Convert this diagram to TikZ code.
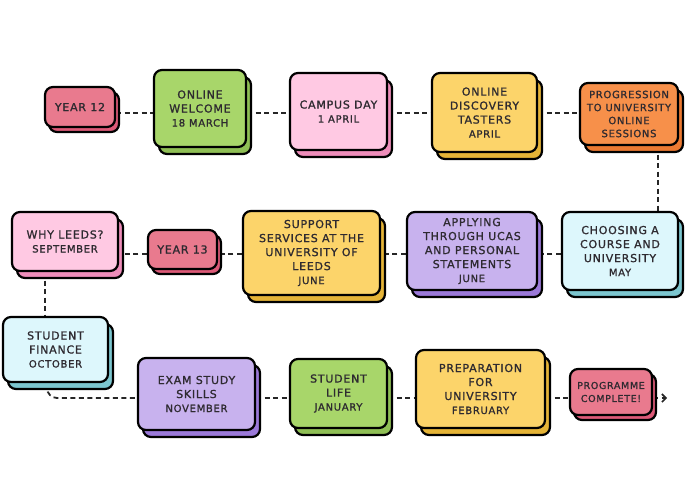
\documentclass[tikz,border=0pt]{standalone}
\usepackage{fontspec}
\setmainfont{DejaVu Sans}[LetterSpace=7,FakeBold=1.2]
\usetikzlibrary{shadows,arrows.meta,backgrounds}
\definecolor{txt}{HTML}{2E2A30}
\definecolor{redF}{HTML}{E97A8E}
\definecolor{redS}{HTML}{DD5A78}
\definecolor{grnF}{HTML}{A8D66A}
\definecolor{grnS}{HTML}{8FBF55}
\definecolor{pnkF}{HTML}{FFC9E3}
\definecolor{pnkS}{HTML}{EE8DBA}
\definecolor{yelF}{HTML}{FCD46A}
\definecolor{yelS}{HTML}{E5B437}
\definecolor{orgF}{HTML}{F7904A}
\definecolor{orgS}{HTML}{EC7A32}
\definecolor{purF}{HTML}{C8B2EE}
\definecolor{purS}{HTML}{9B79D9}
\definecolor{cynF}{HTML}{DDF7FC}
\definecolor{cynS}{HTML}{7CC6CF}
\newcommand{\datel}[1]{{\fontsize{10}{14}\selectfont #1}}
\begin{document}
\begin{tikzpicture}[x=1pt,y=-1pt,
  box/.style={draw=black, line width=2.2pt, rounded corners=8pt, inner sep=0pt,
    align=center, text=txt, font=\fontsize{11}{14}\selectfont},
  sh/.style={copy shadow={shadow xshift=5pt, shadow yshift=-7pt, fill=#1, draw=black, line width=2.2pt}},
  shs/.style={copy shadow={shadow xshift=4pt, shadow yshift=-5pt, fill=#1, draw=black, line width=2.2pt}},
  sz/.style n args={2}{minimum width=#1pt, minimum height=#2pt},
  redbox/.style={box, fill=redF, shs=redS},
  grnbox/.style={box, fill=grnF, sh=grnS},
  pnkbox/.style={box, fill=pnkF, sh=pnkS},
  yelbox/.style={box, fill=yelF, sh=yelS},
  orgbox/.style={box, fill=orgF, sh=orgS},
  purbox/.style={box, fill=purF, sh=purS},
  cynbox/.style={box, fill=cynF, sh=cynS},
  conn/.style={draw=black!85, line width=1.8pt, dash pattern=on 5pt off 3.5pt}
]
\useasboundingbox (0,0) rectangle (700,495);
\coordinate (r1) at (0,113);
\coordinate (r2) at (0,254);
\coordinate (r3) at (0,398);
\coordinate (xa) at (658,0);
\coordinate (xb) at (45,0);
\coordinate (xc) at (47,0);
\coordinate (endpt) at (667,398);

% row 1
\node[redbox, sz={70}{40}] (y12) at (80,107) {YEAR 12};
\node[grnbox, sz={92}{77}] (wel) at (200,108.5) {ONLINE\\WELCOME\\\datel{18 MARCH}};
\node[pnkbox, sz={97}{77}] (cam) at (338.5,111.5) {CAMPUS DAY\\\datel{1 APRIL}};
\node[yelbox, sz={105}{79}] (dis) at (484.5,112.5) {ONLINE\\DISCOVERY\\TASTERS\\\datel{APRIL}};
\node[orgbox, sz={98}{62}, font=\fontsize{10}{13}\selectfont] (pro) at (629,114) {PROGRESSION\\TO UNIVERSITY\\ONLINE\\SESSIONS};

% row 2
\node[cynbox, sz={116}{78}] (cho) at (620,251) {CHOOSING A\\COURSE AND\\UNIVERSITY\\\datel{MAY}};
\node[purbox, sz={130}{78}] (app) at (472,251) {APPLYING\\THROUGH UCAS\\AND PERSONAL\\STATEMENTS\\\datel{JUNE}};
\node[yelbox, sz={137}{84}] (sup) at (311.5,253) {SUPPORT\\SERVICES AT THE\\UNIVERSITY OF\\LEEDS\\\datel{JUNE}};
\node[redbox, sz={69}{39}] (y13) at (182.5,249.5) {YEAR 13};
\node[pnkbox, sz={106}{59}] (why) at (65,241.5) {WHY LEEDS?\\\datel{SEPTEMBER}};

% row 3
\node[cynbox, sz={105}{65}] (fin) at (55.5,349.5) {STUDENT\\FINANCE\\\datel{OCTOBER}};
\node[purbox, sz={117}{72}] (exa) at (196.5,394) {EXAM STUDY\\SKILLS\\\datel{NOVEMBER}};
\node[grnbox, sz={97}{69}] (lif) at (338.5,393.5) {STUDENT\\LIFE\\\datel{JANUARY}};
\node[yelbox, sz={129}{78}] (pre) at (480.5,389) {PREPARATION\\FOR\\UNIVERSITY\\\datel{FEBRUARY}};
\node[redbox, sz={82}{46}, font=\fontsize{9.5}{13}\selectfont] (com) at (611,392) {PROGRAMME\\COMPLETE!};

\begin{pgfonlayer}{background}
\draw[conn] (y12.east |- r1) -- (wel.west |- r1);
\draw[conn] (wel.east |- r1) -- (cam.west |- r1);
\draw[conn] (cam.east |- r1) -- (dis.west |- r1);
\draw[conn] (dis.east |- r1) -- (pro.west |- r1);
\draw[conn] (pro.south -| xa) -- (cho.north -| xa);
\draw[conn] (cho.west |- r2) -- (app.east |- r2);
\draw[conn] (app.west |- r2) -- (sup.east |- r2);
\draw[conn] (sup.west |- r2) -- (y13.east |- r2);
\draw[conn] (y13.west |- r2) -- (why.east |- r2);
\draw[conn] (why.south -| xb) -- (fin.north -| xb);
\draw[conn, rounded corners=10pt] (fin.south -| xc) |- (exa.west |- r3);
\draw[conn] (exa.east |- r3) -- (lif.west |- r3);
\draw[conn] (lif.east |- r3) -- (pre.west |- r3);
\draw[conn] (pre.east |- r3) -- (com.west |- r3);
\draw[conn, -{Straight Barb[length=4pt,width=8pt,line width=1.6pt]}] (com.east |- r3) -- (endpt);
\end{pgfonlayer}
\end{tikzpicture}
\end{document}
